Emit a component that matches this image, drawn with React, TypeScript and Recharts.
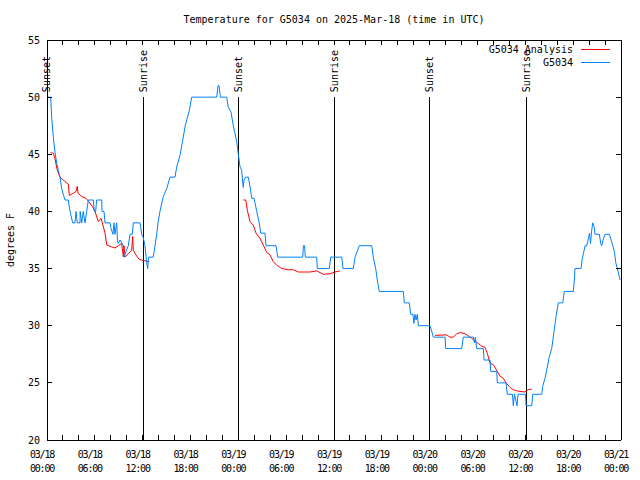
import React from 'react';
import { LineChart, Line, XAxis, YAxis, ReferenceLine, Legend } from 'recharts';

const FONT = '"DejaVu Sans Mono", monospace';

// hours since 03/18 00:00 UTC, temperature °F
const g5034Points: [number, number][] = [
  [0, 50], [0.46, 50], [0.59, 48.2], [0.79, 46.5], [1.0, 45.2], [1.22, 44.2], [1.42, 43.6], [1.63, 43], [1.84, 42],
  [2.04, 41.5], [2.26, 41], [2.67, 41], [2.89, 40], [3.22, 39], [3.51, 39], [3.64, 40], [3.8, 39], [4.14, 39], [4.16, 40],
  [4.35, 39], [4.55, 40], [4.77, 39], [4.98, 40], [5.18, 41], [5.81, 41], [5.93, 40], [6.1, 40], [6.23, 41], [6.86, 41],
  [6.9, 40], [7.15, 40], [7.28, 39], [7.9, 39], [8.03, 38.5], [8.28, 38], [8.4, 39], [8.53, 38], [8.74, 39], [8.84, 37.5],
  [8.94, 37.2], [9.16, 37.5], [9.57, 37], [9.66, 36], [9.91, 36.5], [10.2, 37], [10.41, 38], [10.7, 38], [10.83, 39],
  [11.67, 39], [11.88, 38], [12.08, 37.7], [12.29, 37], [12.51, 35.5], [12.63, 35], [12.73, 36], [13.33, 36], [13.55, 37],
  [13.76, 38], [13.92, 39], [14.17, 40], [14.59, 41.3], [15.02, 42], [15.43, 43], [16.06, 43], [16.27, 43.9], [16.68, 44.9],
  [17.02, 46.2], [17.31, 47.4], [17.52, 48], [17.85, 48.8], [18.15, 50], [21.29, 50], [21.45, 51], [21.58, 51], [21.75, 50],
  [22.54, 50], [22.74, 49.1], [23.08, 48.7], [23.37, 47.5], [23.8, 46.1], [24.0, 45], [24.21, 43.9], [24.42, 43.6],
  [24.55, 42.5], [24.62, 42.1], [24.71, 42.75], [24.93, 43], [25.25, 43], [25.46, 42.2], [25.68, 41.15], [25.97, 41.15],
  [26.31, 40], [26.59, 39.1], [26.81, 38.1], [27.35, 38.1], [27.47, 37], [28.73, 37], [28.94, 36], [32.08, 36], [32.16, 37],
  [32.3, 37], [32.4, 36], [33.83, 36], [33.91, 35], [35.41, 35], [35.59, 36], [36.97, 36], [37.13, 35], [38.42, 35],
  [38.64, 36], [39.18, 37], [40.73, 37], [40.93, 36], [41.23, 35], [41.43, 34], [41.68, 33], [44.7, 33], [44.82, 32],
  [45.45, 32], [45.62, 31], [45.91, 31], [46.02, 30.2], [46.16, 31], [46.29, 30.5], [46.45, 31], [46.58, 30], [48.04, 30],
  [48.26, 29.5], [48.46, 29], [49.93, 29], [50.02, 28], [52.02, 28], [52.22, 29], [53.48, 29], [53.63, 28.5], [53.73, 29],
  [53.9, 28], [54.73, 28], [54.82, 27], [55.57, 27], [55.66, 26], [56.41, 26], [56.49, 25], [57.58, 25], [57.74, 24],
  [58.39, 24], [58.49, 23], [58.64, 24], [58.96, 23], [59.08, 24], [60.02, 24], [60.09, 23], [60.8, 23], [60.93, 24],
  [62.06, 24], [62.18, 24.7], [62.47, 25.4], [62.68, 26.1], [63.01, 27.3], [63.31, 28], [63.6, 29.5], [63.85, 30.8],
  [64.14, 32], [64.69, 32], [64.89, 33], [66.02, 33], [66.15, 34], [66.23, 35], [66.99, 35], [67.11, 35.75], [67.28, 36.3],
  [67.49, 37], [67.7, 37], [67.9, 37.6], [68.05, 38.1], [68.18, 37.2], [68.3, 38.2], [68.45, 39], [68.62, 38.7], [68.74, 38],
  [69.28, 38], [69.46, 37.2], [69.58, 37], [69.79, 37.6], [70.0, 38], [70.54, 38], [70.72, 37.6], [70.97, 37], [71.17, 36.5],
  [71.35, 35.5], [71.54, 35], [71.79, 34.3], [71.88, 34],
];

const analysisNight1: [number, number][] = [
  [0.46, 45.15], [0.79, 45.1], [1.0, 44.6], [1.29, 43.6], [1.63, 43.0], [2.04, 42.75], [2.47, 42.5], [2.67, 42.4],
  [2.8, 41.4], [3.3, 41.6], [3.64, 41.75], [3.8, 42.2], [3.89, 41.6], [4.35, 41.3], [4.89, 41.15], [5.18, 40.9],
  [5.73, 40.4], [6.02, 40], [6.44, 39.1], [6.77, 39.4], [6.94, 39.0], [7.28, 38.1], [7.49, 37.06], [8.12, 36.9],
  [8.53, 36.8], [8.94, 37.0], [9.37, 37.2], [9.57, 36.05], [9.66, 37.0], [9.78, 36], [10.2, 36.3], [10.62, 36.6],
  [10.75, 37.8], [10.83, 36.6], [11.24, 36.1], [11.58, 35.8], [12.08, 35.7], [12.51, 35.65], [12.83, 35.6],
];
const analysisNight2: [number, number][] = [
  [24.62, 41.0], [24.93, 41.0], [25.13, 40.1], [25.46, 39.1], [25.88, 38.8], [26.22, 38.1], [26.72, 37.65], [27.13, 37.06],
  [27.56, 36.4], [27.97, 36.2], [28.39, 35.6], [28.81, 35.3], [29.44, 35.0], [30.27, 34.9], [30.9, 34.9], [31.52, 34.7],
  [32.99, 34.7], [33.83, 34.8], [34.66, 34.5], [35.5, 34.55], [36.13, 34.7], [36.75, 34.8],
];
const analysisNight3: [number, number][] = [
  [48.67, 29.15], [50.14, 29.2], [50.55, 29.0], [50.97, 29.0], [51.39, 29.3], [51.81, 29.4], [52.44, 29.3], [52.85, 29.1],
  [53.27, 28.9], [53.69, 28.65], [54.1, 28.45], [54.53, 28.2], [54.94, 28.1], [55.23, 27.6], [55.57, 26.7], [55.98, 26.6],
  [56.41, 26.1], [56.82, 25.6], [57.24, 25.4], [57.58, 25.0], [58.08, 24.6], [58.49, 24.4], [58.92, 24.3], [59.33, 24.25],
  [59.96, 24.2], [60.37, 24.4], [60.8, 24.45],
];

const sunHours = [0, 12.08, 24.0, 36.04, 48.04, 60.09];
const sunLabels = ['Sunset', 'Sunrise', 'Sunset', 'Sunrise', 'Sunset', 'Sunrise'];

const xTicks = [0, 2, 4, 6, 8, 10, 12, 14, 16, 18, 20, 22, 24, 26, 28, 30, 32, 34, 36, 38, 40, 42, 44, 46, 48, 50, 52, 54, 56, 58, 60, 62, 64, 66, 68, 70, 72];
const xDateLabels = ['03/18', '03/18', '03/18', '03/18', '03/19', '03/19', '03/19', '03/19', '03/20', '03/20', '03/20', '03/20', '03/21'];
const xTimeLabels = ['00:00', '06:00', '12:00', '18:00', '00:00', '06:00', '12:00', '18:00', '00:00', '06:00', '12:00', '18:00', '00:00'];
const yTicks = [20, 25, 30, 35, 40, 45, 50, 55];
const legendOrder = ['G5034 Analysis', 'G5034'];

const blueData = g5034Points.map(([t, v]) => ({ t, v }));
const redData = [
  ...analysisNight1.map(([t, v]) => ({ t, v: v as number | null })),
  { t: 18, v: null },
  ...analysisNight2.map(([t, v]) => ({ t, v: v as number | null })),
  { t: 42, v: null },
  ...analysisNight3.map(([t, v]) => ({ t, v: v as number | null })),
];

const txt = { fontFamily: FONT, fontSize: 10, fill: '#000' } as const;

const BottomTick = (props: any) => {
  const { x, y, payload } = props;
  const t = payload.value as number;
  const idx = t % 6 === 0 ? t / 6 : -1;
  return (
    <g>
      <line x1={x} y1={y} x2={x} y2={y - 5} stroke="#000" shapeRendering="crispEdges" />
      {idx >= 0 && (
        <text x={x - 5} textAnchor="middle" style={{ ...txt, letterSpacing: -1.2 }}>
          <tspan x={x - 5} y={y + 17.5}>{xDateLabels[idx]}</tspan>
          <tspan x={x - 5} y={y + 32}>{xTimeLabels[idx]}</tspan>
        </text>
      )}
    </g>
  );
};
const TopTick = (props: any) => {
  const { x, y } = props;
  return <line x1={x} y1={y} x2={x} y2={y + 5} stroke="#000" shapeRendering="crispEdges" />;
};
const LeftTick = (props: any) => {
  const { x, y, payload } = props;
  return (
    <g>
      <line x1={x} y1={y} x2={x + 5} y2={y} stroke="#000" shapeRendering="crispEdges" />
      <text x={x - 7} y={y} textAnchor="end" dominantBaseline="central" style={txt}>{payload.value}</text>
    </g>
  );
};
const RightTick = (props: any) => {
  const { x, y } = props;
  return <line x1={x} y1={y} x2={x - 5} y2={y} stroke="#000" shapeRendering="crispEdges" />;
};

const SunLabel = (text: string) => (props: any) => {
  const vb = props.viewBox || {};
  const x = vb.x;
  const y = (vb.y ?? 97) - 5;
  return (
    <text x={x} y={y} transform={`rotate(-90 ${x} ${y})`} textAnchor="start" dominantBaseline="central" style={txt}>
      {text}
    </text>
  );
};

const LegendBox = (props: any) => {
  const items = [...(props.payload || [])].sort(
    (a: any, b: any) => legendOrder.indexOf(a.value) - legendOrder.indexOf(b.value)
  );
  return (
    <svg width={640} height={75} style={{ display: 'block' }}>
      {items.map((it: any, i: number) => (
        <g key={i}>
          <text x={573} y={49 + i * 13} textAnchor="end" dominantBaseline="central" style={txt}>{it.value}</text>
          <line x1={581} x2={610} y1={49 + i * 13} y2={49 + i * 13} stroke={it.color} shapeRendering="crispEdges" />
        </g>
      ))}
    </svg>
  );
};

export default function App() {
  return (
    <div style={{ position: 'absolute', left: 0, top: 0, width: 640, height: 480, background: '#fff' }}>
      <LineChart width={640} height={480} margin={{ top: 39, right: 18, bottom: 0, left: 0 }}>
        <XAxis
          xAxisId="b" dataKey="t" type="number" domain={[0, 72]} ticks={xTicks} interval={0} allowDataOverflow
          height={40} tickSize={0} tickMargin={0} tickLine={false}
          axisLine={{ stroke: '#000', shapeRendering: 'crispEdges' }} tick={<BottomTick />}
        />
        <XAxis
          xAxisId="t" orientation="top" dataKey="t" type="number" domain={[0, 72]} ticks={xTicks} interval={0} allowDataOverflow
          height={1} tickSize={0} tickMargin={0} tickLine={false}
          axisLine={{ stroke: '#000', shapeRendering: 'crispEdges' }} tick={<TopTick />}
          label={{
            content: () => (
              <text x={334} y={23} textAnchor="middle" style={txt}>Temperature for G5034 on 2025-Mar-18 (time in UTC)</text>
            ),
          }}
        />
        <YAxis
          yAxisId="l" type="number" domain={[20, 55]} ticks={yTicks} interval={0} allowDataOverflow
          width={47} tickSize={0} tickMargin={0} tickLine={false}
          axisLine={{ stroke: '#000', shapeRendering: 'crispEdges' }} tick={<LeftTick />}
          label={{
            content: () => (
              <text x={10} y={240} transform="rotate(-90 10 240)" textAnchor="middle" dominantBaseline="central" style={txt}>degrees F</text>
            ),
          }}
        />
        <YAxis
          yAxisId="r" orientation="right" type="number" domain={[20, 55]} ticks={yTicks} interval={0} allowDataOverflow
          width={1} tickSize={0} tickMargin={0} tickLine={false}
          axisLine={{ stroke: '#000', shapeRendering: 'crispEdges' }} tick={<RightTick />}
        />
        {sunHours.map((h, i) => (
          <ReferenceLine
            key={i} xAxisId="b" yAxisId="l"
            segment={[{ x: h, y: 20 }, { x: h, y: 50 }]}
            stroke="#000" strokeWidth={1} shapeRendering="crispEdges"
            label={{ content: SunLabel(sunLabels[i]) }}
          />
        ))}
        <Line
          xAxisId="b" yAxisId="l" data={redData} dataKey="v" name="G5034 Analysis" type="linear"
          stroke="#ff0000" strokeWidth={1} dot={false} activeDot={false} isAnimationActive={false} connectNulls={false}
        />
        <Line
          xAxisId="b" yAxisId="l" data={blueData} dataKey="v" name="G5034" type="linear"
          stroke="#0080ff" strokeWidth={1} dot={false} activeDot={false} isAnimationActive={false}
        />
        <Legend
          layout="vertical" align="center" verticalAlign="middle"
          wrapperStyle={{ position: 'absolute', left: 0, top: 0, width: 640, height: 75, margin: 0, padding: 0 }}
          content={<LegendBox />}
        />
      </LineChart>
    </div>
  );
}
